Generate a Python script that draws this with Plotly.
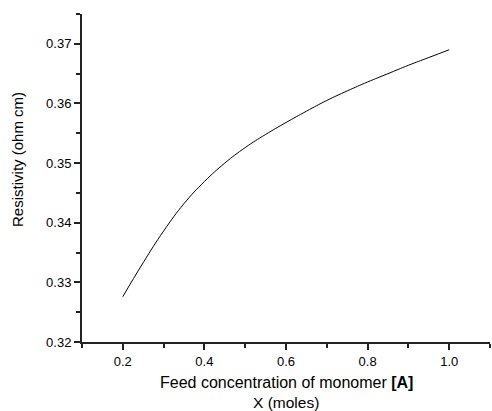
import plotly.graph_objects as go

x_moles = [0.20, 0.25, 0.30, 0.35, 0.40, 0.45, 0.50, 0.55, 0.60, 0.65,
           0.70, 0.75, 0.80, 0.85, 0.90, 0.95, 1.00]
resistivity = [0.3276, 0.3333, 0.3386, 0.3432, 0.3469, 0.3500, 0.3526, 0.3548,
               0.3568, 0.3587, 0.3605, 0.3621, 0.3636, 0.3650, 0.3664, 0.3677, 0.3690]

x_title_1 = "Feed concentration of monomer <b>[A]</b>"
x_title_2 = "X (moles)"
y_title = "Resistivity (ohm cm)"

FONT = "Liberation Sans, Arial, sans-serif"
AX = "#222222"

fig = go.Figure()
fig.add_trace(go.Scatter(x=x_moles, y=resistivity, mode="lines",
                         line=dict(color="black", width=1, shape="spline", smoothing=1.3),
                         showlegend=False))

fig.update_layout(
    width=492, height=411,
    margin=dict(l=82, r=2, t=14, b=69),
    paper_bgcolor="white", plot_bgcolor="white",
    font=dict(family=FONT, size=13, color="black"),
    xaxis=dict(range=[0.1, 1.1], tick0=0.2, dtick=0.2, tickformat=".1f",
               showgrid=False, zeroline=False,
               showline=True, linecolor=AX, linewidth=2,
               ticks="outside", ticklen=6, tickwidth=1.5, tickcolor=AX,
               minor=dict(dtick=0.1, tick0=0.1, ticks="outside", ticklen=4,
                          tickwidth=1.5, tickcolor=AX, showgrid=False)),
    yaxis=dict(range=[0.32, 0.375], tick0=0.32, dtick=0.01, tickformat=".2f",
               showgrid=False, zeroline=False,
               showline=True, linecolor=AX, linewidth=2,
               ticks="outside", ticklen=6, tickwidth=1.5, tickcolor=AX,
               minor=dict(dtick=0.005, tick0=0.32, ticks="outside", ticklen=4,
                          tickwidth=1.5, tickcolor=AX, showgrid=False)),
    annotations=[
        dict(text=x_title_1, xref="paper", yref="paper", x=0.5, y=0, yshift=-40,
             xanchor="center", yanchor="middle", showarrow=False,
             font=dict(family=FONT, size=16, color="black")),
        dict(text=x_title_2, xref="paper", yref="paper", x=0.5, y=0, yshift=-60,
             xanchor="center", yanchor="middle", showarrow=False,
             font=dict(family=FONT, size=15.5, color="black")),
        dict(text=y_title, xref="paper", yref="paper", x=0, xshift=-64, y=0.555,
             xanchor="center", yanchor="middle", textangle=-90, showarrow=False,
             font=dict(family=FONT, size=15, color="black")),
    ],
)

fig.write_html("out.html")
